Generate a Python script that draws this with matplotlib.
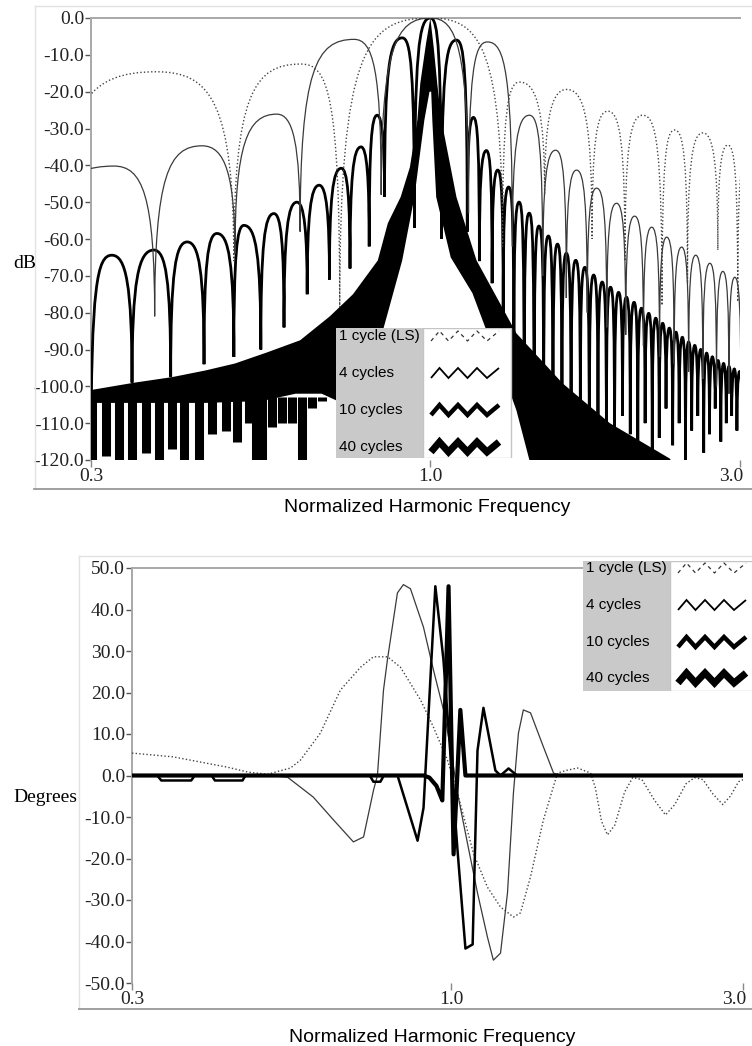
import numpy as np
import matplotlib
matplotlib.use("Agg")
import matplotlib.pyplot as plt
from matplotlib.path import Path
from matplotlib.patches import PathPatch, Rectangle
from matplotlib.lines import Line2D
from matplotlib.ticker import FormatStrFormatter, NullLocator
from matplotlib.transforms import ScaledTranslation

W, H = 752, 1046

# ---- magnitude chart: lobes (null positions/depths, peak positions/levels)
one_null_f = [0.27, 0.498, 0.725, 1.292, 1.50, 1.775, 1.995, 2.275, 2.49, 2.773, 2.976, 3.2]
one_null_db = [-60, -66, -78.5, -62, -48, -60, -66, -78, -72, -63, -77, -60]
one_peak_f = [0.378, 0.632, 1.0, 1.372, 1.622, 1.876, 2.124, 2.379, 2.630, 2.873, 3.08]
one_peak_db = [-14.6, -12.5, 0.0, -17.4, -19.4, -25.3, -26.4, -30.4, -31.2, -34.5, -37.0]

four_null_f = [0.25, 0.376, 0.50, 0.63, 0.84, 1.145, 1.338, 1.49, 1.62, 1.745, 1.87, 2.0,
               2.13, 2.255, 2.375, 2.50, 2.63, 2.76, 2.885, 3.01]
four_null_db = [-70, -81, -64, -58, -48, -53, -62, -70, -76, -80, -84, -86, -89, -92, -94,
                -96, -98, -100, -102, -104]
four_peak_f = [0.3255, 0.445, 0.58, 0.763, 1.0, 1.224, 1.421, 1.56, 1.68, 1.804, 1.936, 2.064,
               2.193, 2.313, 2.439, 2.564, 2.696, 2.823, 2.945]
four_peak_db = [-40.2, -34.7, -26.1, -5.8, 0.0, -6.5, -26.4, -35.9, -41.3, -46.2, -50.3, -53.8,
                -56.8, -59.5, -62.2, -64.4, -66.6, -68.8, -70.4]

ten_null_f = [0.30, 0.347, 0.398, 0.448, 0.498, 0.548, 0.595, 0.646, 0.699, 0.752, 0.805, 0.85,
              0.945, 1.04, 1.14, 1.19, 1.245, 1.295, 1.345, 1.395, 1.445, 1.495, 1.545, 1.595,
              1.6475, 1.7025, 1.7575, 1.8125, 1.8675, 1.9225, 1.9775, 2.0325, 2.0875, 2.1425,
              2.1975, 2.2525, 2.3075, 2.3625, 2.4175, 2.4725, 2.5275, 2.5825, 2.6375, 2.6925,
              2.7475, 2.8025, 2.8575, 2.9125, 2.9675, 3.0225]
ten_null_db = [-120, -99, -97.5, -94, -92, -90, -84, -75, -71, -68, -62, -48.6,
               -57, -60, -58, -66, -72, -80, -95, -112, -120, -108, -120, -115,
               -118, -110, -120, -112, -116, -120, -108, -113, -118, -110, -120, -114, -106,
               -116, -110, -120, -112, -108, -118, -113, -106, -115, -110, -108, -112, -106]
ten_peak_f = [0.323, 0.375, 0.422, 0.469, 0.516, 0.574, 0.623, 0.674, 0.729, 0.782, 0.828,
              0.905, 1.0, 1.097, 1.165, 1.22, 1.27, 1.32, 1.37, 1.42, 1.47, 1.52, 1.57, 1.62,
              1.675, 1.73, 1.785, 1.84, 1.895, 1.95, 2.005, 2.06, 2.115, 2.17, 2.225, 2.28,
              2.335, 2.39, 2.445, 2.50, 2.555, 2.61, 2.665, 2.72, 2.775, 2.83, 2.885, 2.94, 2.995]
ten_peak_db = [-64.4, -63.0, -60.8, -58.5, -56.3, -53.1, -50.0, -45.4, -40.8, -35.0, -26.4,
               -5.4, 0.0, -6.0, -27.0, -36.0, -41.3, -45.9, -50.0, -53.0, -56.5, -59.2, -61.4,
               -63.9, -65.8, -67.7, -69.8, -71.7, -73.1, -74.5, -75.8, -77.2, -78.8, -80.2,
               -81.5, -82.9, -84.2, -85.3, -86.7, -88.0, -88.9, -90.0, -91.0, -92.0, -93.0,
               -93.8, -94.6, -95.3, -96.0]

# 40 cycles is too dense to resolve: outline of the black band + comb teeth
forty_env_f = [0.30, 0.35, 0.40, 0.45, 0.50, 0.56, 0.63, 0.70, 0.76, 0.83, 0.86, 0.90, 0.93,
               0.955, 0.965, 0.985, 1.0, 1.012, 1.025, 1.04, 1.097, 1.178, 1.357, 1.599, 1.89,
               2.338, 2.45]
forty_env_db = [-101, -99, -97.5, -95.7, -93.8, -90.8, -87.5, -81, -75, -65.8, -55.7, -48.6,
                -40.5, -27.7, -17.7, -6.8, 0, -8, -18, -27.7, -48.6, -65.8, -85.6, -99.2, -110,
                -119.6, -125]
forty_low_f = [2.45, 1.421, 1.357, 1.29, 1.22, 1.161, 1.075, 1.021, 1.007, 1.003, 0.997, 0.979,
               0.945, 0.905, 0.86, 0.80, 0.72, 0.68, 0.62, 0.55, 0.45, 0.30]
forty_low_db = [-125, -120, -106.5, -95.7, -84.8, -74.7, -65, -48.6, -27.7, -20, -20, -27.7,
                -48.6, -65.8, -80, -100, -104, -102, -102, -104, -104.5, -104.5]
forty_teeth_f = [0.301, 0.316, 0.331, 0.347, 0.364, 0.382, 0.40, 0.417, 0.44, 0.461, 0.484,
                 0.504, 0.526, 0.539, 0.551, 0.570, 0.591, 0.612, 0.635, 0.658, 0.681, 0.706]
forty_teeth_db = [-120, -119, -120, -120, -118, -120, -117, -120, -120, -113, -112, -115, -110,
                  -120, -120, -111, -110, -110, -120, -106, -104, -103]

# ---- phase chart (degrees)
ph1_f = [0.30, 0.35, 0.374, 0.43, 0.465, 0.50, 0.545, 0.566, 0.61, 0.658, 0.71, 0.745, 0.786,
         0.825, 0.89, 0.934, 0.985, 1.023, 1.086, 1.145, 1.203, 1.263, 1.297, 1.347, 1.414,
         1.491, 1.549, 1.608, 1.689, 1.72, 1.76, 1.80, 1.85, 1.92, 1.98, 2.05, 2.15, 2.24,
         2.32, 2.42, 2.50, 2.58, 2.68, 2.78, 2.86, 2.95, 3.0]
ph1_deg = [5.4, 4.5, 3.7, 2.0, 0.8, 0.3, 1.8, 3.7, 10.2, 20.6, 26.1, 28.6, 28.6, 26.1, 18.2,
           11.7, 3.7, -4.2, -18.7, -26.9, -31.7, -34.1, -33.1, -24.4, -10.7, 0.6, 1.3, 1.8,
           0.6, -3, -11, -14.3, -12, -4, -0.5, -1, -6, -9.5, -7, -2, -0.5, -1, -4.5, -7, -5,
           -1.5, -1]

ph4_f = [0.30, 0.50, 0.539, 0.594, 0.641, 0.691, 0.718, 0.7455, 0.7565, 0.774, 0.7857, 0.8157,
         0.8343, 0.8568, 0.90, 0.9344, 0.9703, 0.9962, 1.0229, 1.062, 1.103, 1.145, 1.171, 1.203,
         1.235, 1.263, 1.287, 1.311, 1.347, 1.414, 1.469, 1.5, 3.0]
ph4_deg = [0, 0, -0.4, -5.2, -10.7, -16.0, -14.8, -3.5, 0, 20.6, 28, 44, 46, 45, 35.7, 25.4,
           15.8, 6.9, -4.2, -16.3, -28.3, -38.9, -44.5, -42.8, -28.3, -4.2, 10.2, 15.8, 15.1,
           6.9, 0.6, 0, 0]

ph10_f = [0.30, 0.33, 0.335, 0.375, 0.38, 0.405, 0.41, 0.455, 0.46, 0.735, 0.745, 0.765, 0.775,
          0.816, 0.88, 0.90, 0.941, 0.970, 1.023, 1.054, 1.083, 1.103, 1.128, 1.18, 1.203,
          1.24, 1.28, 3.0]
ph10_deg = [0, 0, -1.2, -1.2, 0, 0, -1.2, -1.2, 0, 0, -1.5, -1.5, 0, 0, -15.7, -7.8, 45.6, 28,
            -18, -41.7, -40.7, 6, 16.3, 1.2, 0, 1.7, 0, 0]

ph40_f = [0.30, 0.90, 0.92, 0.945, 0.96, 0.966, 0.989, 1.008, 1.034, 1.054, 3.0]
ph40_deg = [0, 0, -0.5, -2.5, -5, -6, 45.6, -19, 15.8, 0, 0]

labels = ["1 cycle (LS)", "4 cycles", "10 cycles", "40 cycles"]

SERIF = "Liberation Serif"
SANS = "Liberation Sans"
DOT = (0, (1, 1.6))


def lobe_path(null_f, null_db, peak_f, peak_db):
    # each half lobe is one cubic Bezier: vertical at the null, rounded at the peak
    verts = [(null_f[0], null_db[0])]
    codes = [Path.MOVETO]
    for i in range(len(peak_f)):
        a, p, b = np.log10([null_f[i], peak_f[i], null_f[i + 1]])
        yp = peak_db[i]
        da = min(8.0, 0.6 * (yp - null_db[i]))
        db = min(8.0, 0.6 * (yp - null_db[i + 1]))
        verts += [(null_f[i], yp - da), (10 ** (a + 0.3 * (p - a)), yp), (peak_f[i], yp),
                  (10 ** (p + 0.7 * (b - p)), yp), (null_f[i + 1], yp - db),
                  (null_f[i + 1], null_db[i + 1])]
        codes += [Path.CURVE4] * 6
    return Path(verts, codes)


def style_axes(ax, yticks):
    ax.set_xscale("log")
    ax.set_xlim(0.3, 3.0)
    ax.set_xticks([0.3, 1.0, 3.0])
    ax.set_xticklabels(["0.3", "1.0", "3.0"])
    ax.xaxis.set_minor_locator(NullLocator())
    ax.set_yticks(yticks)
    ax.yaxis.set_major_formatter(FormatStrFormatter("%.1f"))
    for s in ["right", "bottom"]:
        ax.spines[s].set_visible(False)
    for s in ["top", "left"]:
        ax.spines[s].set_color("#a8a8a8")
        ax.spines[s].set_linewidth(1.4)
    ax.tick_params(axis="y", length=4, width=1, color="#555", pad=1,
                   labelsize=14, labelcolor="#222")
    ax.tick_params(axis="x", length=5, width=1, color="#888", pad=1,
                   labelsize=14, labelcolor="#222")
    for t in ax.get_xticklabels() + ax.get_yticklabels():
        t.set_family(SERIF)
    # keep the last x label inside the picture
    last = ax.get_xticklabels()[-1]
    last.set_transform(last.get_transform() + ScaledTranslation(-6 / 72, 0, fig.dpi_scale_trans))


def draw_key(x0, y0, rows_y):
    wg, ww, h = 87, 90, 130
    k = fig.add_axes([x0 / W, 1 - (y0 + h) / H, (wg + ww) / W, h / H])
    k.set_xlim(0, wg + ww)
    k.set_ylim(h, 0)
    k.axis("off")
    k.add_patch(Rectangle((0, 0), wg, h, fc="#c9c9c9", ec="none"))
    k.add_patch(Rectangle((wg, 0), ww - 2, h, fc="white", ec="#c4c4c4", lw=1))
    zx = wg + np.array([8, 16.5, 25.5, 35, 44.5, 54, 64, 76])
    zy = np.array([1, -1, 1, -1, 1, -1, 1, -1]) * 5.0
    styles = [dict(lw=0.9, ls=(0, (3, 3)), color="#333"),
              dict(lw=1.3, ls="-", color="black"),
              dict(lw=3.2, ls="-", color="black"),
              dict(lw=5.0, ls="-", color="black")]
    for lab, ry, st in zip(labels, rows_y, styles):
        k.text(3, ry - y0, lab, fontsize=11, family=SANS, va="center", ha="left")
        k.plot(zx, ry - y0 + zy, solid_joinstyle="miter", solid_capstyle="butt", **st)


def fig_line(x, y, color, lw):
    fig.add_artist(Line2D(np.array(x) / W, 1 - np.array(y) / H, transform=fig.transFigure,
                          color=color, lw=lw))


fig = plt.figure(figsize=(W / 100, H / 100), dpi=100)

# outer frames
fig_line([35, 752], [6, 6], "#e2e2e2", 1)
fig_line([35, 35], [6, 489], "#e2e2e2", 1)
fig_line([34, 752], [489, 489], "#999999", 1.3)
fig_line([79, 752], [556, 556], "#e2e2e2", 1)
fig_line([79, 79], [556, 1009], "#e2e2e2", 1)
fig_line([79, 752], [1009, 1009], "#999999", 1.3)

# ---- top: magnitude
ax1 = fig.add_axes([91 / W, 1 - 460 / H, (740 - 91) / W, (460 - 18) / H])
ax1.set_ylim(-120, 0)
style_axes(ax1, np.arange(-120, 1, 10))

band = list(zip(forty_env_f, forty_env_db)) + list(zip(forty_low_f, forty_low_db))
ax1.fill([p[0] for p in band], [p[1] for p in band], color="black", lw=0, zorder=2)
ax1.vlines(forty_teeth_f, forty_teeth_db, -103, color="black", lw=6.5, zorder=2)

ax1.add_patch(PathPatch(lobe_path(ten_null_f, ten_null_db, ten_peak_f, ten_peak_db),
                        fc="none", ec="black", lw=2.0, zorder=3))
ax1.add_patch(PathPatch(lobe_path(four_null_f, four_null_db, four_peak_f, four_peak_db),
                        fc="none", ec="#3a3a3a", lw=0.9, zorder=4))
ax1.add_patch(PathPatch(lobe_path(one_null_f, one_null_db, one_peak_f, one_peak_db),
                        fc="none", ec="#444444", lw=1.0, ls=DOT, zorder=4))

fig.text(25 / W, 1 - 263 / H, "dB", family=SERIF, fontsize=14, ha="center", va="center")
fig.text(427 / W, 1 - 508 / H, "Normalized Harmonic Frequency", family=SANS, fontsize=14,
         ha="center", va="center")

# ---- bottom: phase
ax2 = fig.add_axes([132 / W, 1 - 983 / H, (743 - 132) / W, (983 - 568) / H])
ax2.set_ylim(-50, 50)
style_axes(ax2, np.arange(-50, 51, 10))

ax2.plot(ph1_f, ph1_deg, color="#444444", lw=1.0, ls=DOT, zorder=3)
ax2.plot(ph4_f, ph4_deg, color="#3a3a3a", lw=0.9, zorder=3)
ax2.plot(ph10_f, ph10_deg, color="black", lw=1.8, zorder=4)
ax2.plot(ph40_f, ph40_deg, color="black", lw=3.0, zorder=5)

fig.text(45 / W, 1 - 797 / H, "Degrees", family=SERIF, fontsize=14, ha="center", va="center")
fig.text(432 / W, 1 - 1037 / H, "Normalized Harmonic Frequency", family=SANS, fontsize=14,
         ha="center", va="center")

# legends drawn as boxes with zigzag keys
draw_key(336, 328, [336, 373, 410, 447])
draw_key(583, 561, [568, 605, 642, 678])

fig.savefig("out.png", dpi=100)
